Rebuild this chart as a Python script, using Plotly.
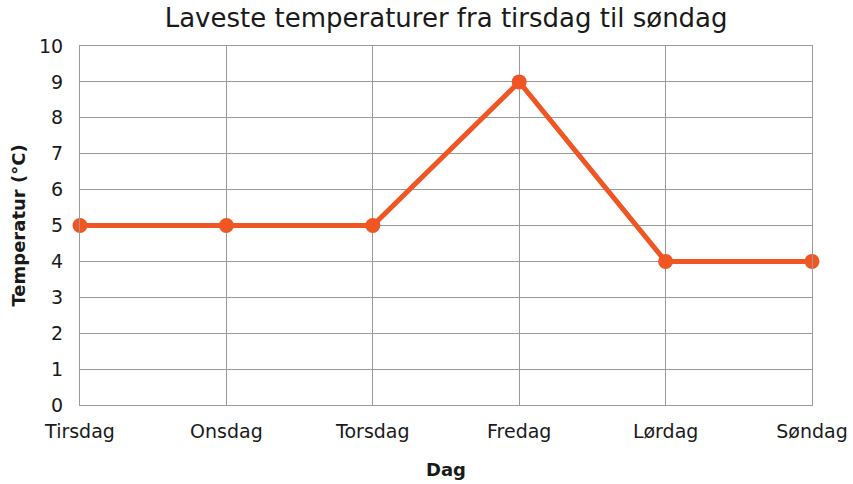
import plotly.graph_objects as go

days = ["Tirsdag", "Onsdag", "Torsdag", "Fredag", "Lørdag", "Søndag"]
temps = [5, 5, 5, 9, 4, 4]
y_ticks = list(range(0, 11))

color = "#F05524"
grid = "#9a9a9a"
font = "DejaVu Sans, sans-serif"

fig = go.Figure()
fig.add_trace(go.Scatter(
    x=days, y=temps, mode="lines+markers",
    line=dict(color=color, width=5),
    marker=dict(color=color, size=15),
    cliponaxis=False,
))

fig.update_layout(
    width=853, height=484,
    margin=dict(l=80, r=41, t=46, b=79, autoexpand=False),
    plot_bgcolor="white", paper_bgcolor="white",
    font=dict(family=font, color="#1a1a1a", size=19),
    title=dict(text="Laveste temperaturer fra tirsdag til søndag",
               x=0.523, xanchor="center", y=0.962, yanchor="middle",
               font=dict(size=26, color="#1a1a1a")),
    showlegend=False,
)
fig.update_xaxes(
    type="category", range=[0, 5], automargin=False,
    showgrid=True, gridcolor=grid, gridwidth=1,
    showline=True, linecolor=grid, linewidth=1, mirror=True,
    ticks="", ticklabelstandoff=9, tickfont=dict(size=19),
    title=dict(text="<b>Dag</b>", font=dict(size=18), standoff=22),
)
fig.update_yaxes(
    range=[0, 10], tickvals=y_ticks, automargin=False,
    showgrid=True, gridcolor=grid, gridwidth=1,
    showline=True, linecolor=grid, linewidth=1, mirror=True,
    zeroline=False,
    ticks="", ticklabelstandoff=12, tickfont=dict(size=19),
    title=dict(text="<b>Temperatur (°C)</b>", font=dict(size=18), standoff=8),
)

fig.write_html(
    "out.html",
    config={"displayModeBar": False},
    post_script="document.body.style.margin='0';document.body.style.overflow='hidden';",
)
